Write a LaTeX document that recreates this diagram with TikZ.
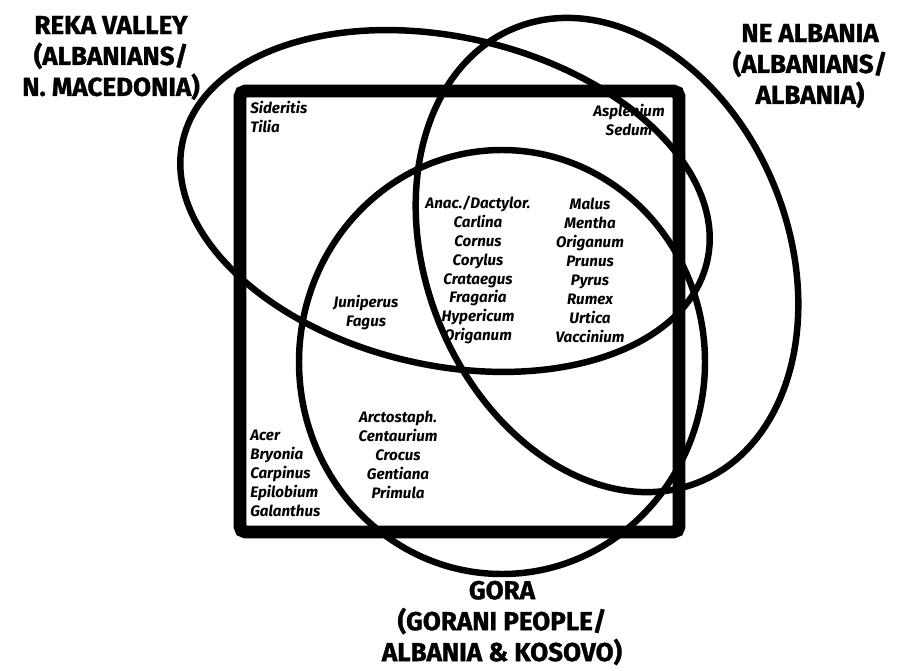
\documentclass[tikz,border=0pt]{standalone}
\usepackage{fontspec}
\setmainfont{Fira Sans}[BoldFeatures = {FakeBold = 1.2}]
\tikzset{
	region/.style = {font = \fontsize{18.5}{22}\selectfont\bfseries, align = center, inner sep = 0pt},
	genus/.style = {font = \fontsize{10.8}{13.5}\selectfont\bfseries\itshape, align = center, inner sep = 0pt},
	ring/.style = {line width = 4.6pt},
	frame/.style = {line width = 9.2pt, rounded corners = 4pt}
}
\begin{document}
\begin{tikzpicture}[x = 0.025cm, y = -0.025cm]
	\useasboundingbox (0, 0) rectangle (898, 670);

	\coordinate (reka) at (445, 201);
	\coordinate (ne) at (607, 255);
	\coordinate (gora) at (502, 362);

	\coordinate (f1) at (240, 91);
	\coordinate (f2) at (679, 91);
	\coordinate (f3) at (679, 532);
	\coordinate (f4) at (240, 532);

	\draw [frame] (f1) -- (f2) -- (f3) -- (f4) -- cycle;

	\draw [ring, rotate around = {-13:(reka)}] (reka) ellipse (269 and 164);
	\draw [ring, rotate around = {22:(ne)}] (ne) ellipse (181 and 245);
	\draw [ring] (gora) ellipse (203 and 212);

	\node [region] (rekalabel) at (111, 58) {REKA VALLEY\\(ALBANIANS/\\N. MACEDONIA)};
	\node [region] (nelabel) at (810, 66) {NE ALBANIA\\(ALBANIANS/\\ALBANIA)};
	\node [region] (goralabel) at (502, 623) {GORA\\(GORANI PEOPLE/\\ALBANIA \& KOSOVO)};

	\node [genus, align = left, anchor = west] (rekaonly) at (250, 117) {Sideritis\\Tilia};
	\node [genus] (neonly) at (629, 120) {Asplenium\\Sedum};
	\node [genus, align = left, anchor = west] (outside) at (250, 473) {Acer\\Bryonia\\Carpinus\\Epilobium\\Galanthus};
	\node [genus] (rekagora) at (366, 313) {Juniperus\\Fagus};
	\node [genus] (goraonly) at (398, 455) {Arctostaph.\\Centaurium\\Crocus\\Gentiana\\Primula};
	\node [genus] (allleft) at (478, 270) {Anac./Dactylor.\\Carlina\\Cornus\\Corylus\\Crataegus\\Fragaria\\Hypericum\\Origanum};
	\node [genus] (allright) at (590, 270) {Malus\\Mentha\\Origanum\\Prunus\\Pyrus\\Rumex\\Urtica\\Vaccinium};
\end{tikzpicture}
\end{document}
